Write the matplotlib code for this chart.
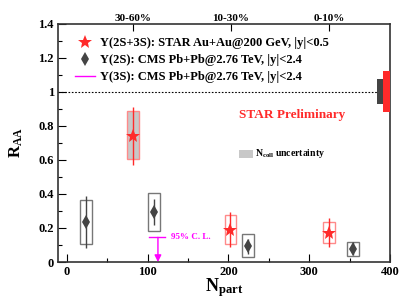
import numpy as np
import matplotlib
matplotlib.use("Agg")
import matplotlib.pyplot as plt
from matplotlib.patches import Rectangle
from matplotlib.lines import Line2D
from matplotlib.ticker import MultipleLocator, FuncFormatter

plt.rcParams["font.family"] = ["Liberation Serif", "DejaVu Serif"]
plt.rcParams["font.weight"] = "bold"
plt.rcParams["mathtext.fontset"] = "custom"
plt.rcParams["mathtext.rm"] = "Liberation Serif:bold"
plt.rcParams["mathtext.bf"] = "Liberation Serif:bold"
plt.rcParams["mathtext.it"] = "Liberation Serif:bold:italic"

# STAR Au+Au 200 GeV, Y(2S+3S)
star_npart = [81.5, 202.5, 325.0]
star_raa = [0.74, 0.19, 0.172]
star_err_lo = [0.17, 0.10, 0.086]
star_err_hi = [0.17, 0.106, 0.088]
star_sys_lo = [0.136, 0.084, 0.062]
star_sys_hi = [0.148, 0.086, 0.061]
star_box_half = 7.4
star_box_filled = [True, False, False]

# CMS Pb+Pb 2.76 TeV, Y(2S)
cms_npart = [23.5, 107.8, 223.9, 354.0]
cms_raa = [0.235, 0.294, 0.094, 0.076]
cms_err_lo = [0.155, 0.076, 0.045, 0.036]
cms_err_hi = [0.153, 0.078, 0.041, 0.044]
cms_sys_lo = [0.129, 0.112, 0.063, 0.039]
cms_sys_hi = [0.128, 0.114, 0.069, 0.040]
cms_box_half = 7.2

# CMS Y(3S) upper limit (95% C.L.)
ul_npart = 112.7
ul_raa = 0.145

# Ncoll uncertainty at unity
ncoll_cms = [0.929, 1.078]
ncoll_star = [0.884, 1.124]

cent_npart = [81.5, 203.0, 325.0]
cent_labels = ["30-60%", "10-30%", "0-10%"]

red = "#ff2a2a"
pink = "#ff8a8a"
dgray = "#444444"
magenta = "#ff00ff"

fig = plt.figure(figsize=(4.15, 2.98), dpi=100)
ax = fig.add_axes([0.1398, 0.1208, 0.8, 0.7987])
ax.set_xlim(-11, 400)
ax.set_ylim(0, 1.4)

# systematic boxes
for x, y, lo, hi, filled in zip(star_npart, star_raa, star_sys_lo, star_sys_hi, star_box_filled):
    ax.add_patch(Rectangle((x - star_box_half, y - lo), 2 * star_box_half, lo + hi,
                           facecolor="#c8c8c8" if filled else "none",
                           edgecolor=pink, lw=1.0, zorder=2))
for x, y, lo, hi in zip(cms_npart, cms_raa, cms_sys_lo, cms_sys_hi):
    ax.add_patch(Rectangle((x - cms_box_half, y - lo), 2 * cms_box_half, lo + hi,
                           facecolor="none", edgecolor="#777777", lw=1.0, zorder=2))

ax.errorbar(star_npart, star_raa, yerr=[star_err_lo, star_err_hi], fmt="*",
            color=red, ms=10, mew=0, elinewidth=1.0, capsize=0, zorder=4)
ax.errorbar(cms_npart, cms_raa, yerr=[cms_err_lo, cms_err_hi], fmt="d",
            color=dgray, ms=7.5, mew=0, elinewidth=1.0, capsize=0, zorder=4)

# upper limit
ax.plot([ul_npart - 11.2, ul_npart + 8.8], [ul_raa, ul_raa], color=magenta, lw=1.0)
ax.annotate("", xy=(ul_npart, 0), xytext=(ul_npart, ul_raa),
            arrowprops=dict(arrowstyle="-|>", color=magenta, lw=1.0,
                            mutation_scale=10, shrinkA=0, shrinkB=0))
ax.text(ul_npart + 16, ul_raa, "95% C. L.", color=magenta, fontsize=6.5,
        fontweight="bold", va="center", ha="left")

# unity line and Ncoll boxes
ax.plot([-11, 384], [1, 1], color="black", lw=0.8, ls=(0, (1.5, 1.5)))
ax.add_patch(Rectangle((384, ncoll_cms[0]), 7.8, ncoll_cms[1] - ncoll_cms[0],
                       facecolor=dgray, edgecolor="none", clip_on=False, zorder=3))
ax.add_patch(Rectangle((391.6, ncoll_star[0]), 8.4, ncoll_star[1] - ncoll_star[0],
                       facecolor=red, edgecolor="none", clip_on=False, zorder=3))

# Ncoll legend
ax.add_patch(Rectangle((213.5, 0.612), 16.5, 0.048, facecolor="#c8c8c8",
                       edgecolor="none"))
ax.text(233, 0.636, r"N$_{\rm coll}$ uncertainty", fontsize=7, va="center",
        ha="left", fontweight="bold")

ax.text(279, 0.865, "STAR Preliminary", color=red, fontsize=9.5,
        fontweight="bold", ha="center", va="center")

handles = [
    Line2D([], [], color=red, marker="*", ls="none", ms=10, mew=0),
    Line2D([], [], color=dgray, marker="d", ls="none", ms=7, mew=0),
    Line2D([], [], color=magenta, lw=1.0),
]
labels = [
    "\u03a5(2S+3S): STAR Au+Au@200 GeV, |y|<0.5",
    "\u03a5(2S): CMS Pb+Pb@2.76 TeV, |y|<2.4",
    "\u03a5(3S): CMS Pb+Pb@2.76 TeV, |y|<2.4",
]
ax.legend(handles, labels, loc="upper left", bbox_to_anchor=(0.035, 0.965),
          frameon=False, prop=dict(size=9, weight="bold"), handlelength=1.6,
          handletextpad=0.4, labelspacing=0.4, borderaxespad=0)

# axes styling
for s in ax.spines.values():
    s.set_linewidth(1.2)
    s.set_color("#333333")
ax.xaxis.set_major_locator(MultipleLocator(100))
ax.xaxis.set_minor_locator(MultipleLocator(50))
ax.yaxis.set_major_locator(MultipleLocator(0.2))
ax.yaxis.set_minor_locator(MultipleLocator(0.1))
ax.yaxis.set_major_formatter(FuncFormatter(lambda v, p: f"{v:g}"))
ax.tick_params(which="both", direction="in", top=False, right=False,
               labelsize=9, width=0.8)
ax.tick_params(which="major", length=6, pad=3)
ax.tick_params(which="minor", length=3)

ax.set_xlabel(r"N$_{\rm part}$", fontsize=13, fontweight="bold")
ax.xaxis.set_label_coords(0.5, -0.06)
ax.set_ylabel(r"R$_{\rm AA}$", fontsize=12, fontweight="bold")
ax.yaxis.set_label_coords(-0.1, 0.5)

axt = ax.twiny()
axt.set_xlim(ax.get_xlim())
axt.set_xticks(cent_npart)
axt.set_xticklabels(cent_labels, fontsize=8, fontweight="bold")
axt.tick_params(direction="in", length=5, width=0.8, pad=1)
axt.xaxis.set_minor_locator(plt.NullLocator())
for s in axt.spines.values():
    s.set_visible(False)

fig.savefig("out.png", dpi=100)
